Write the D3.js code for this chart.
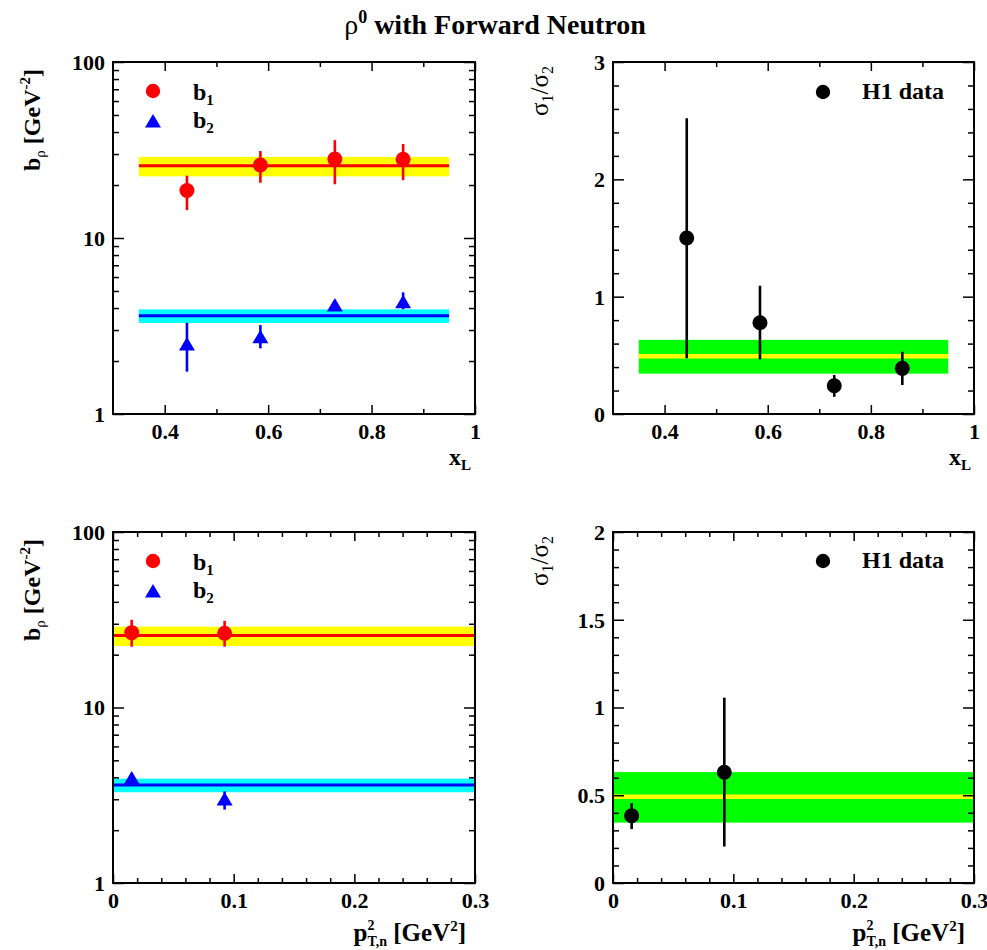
<!DOCTYPE html>
<html><head><meta charset="utf-8">
<script src="https://cdn.jsdelivr.net/npm/d3@7"></script>
<style>
html,body{margin:0;padding:0;background:#fff;}
text{font-family:"Liberation Serif","Times New Roman",serif;}
</style></head>
<body>
<script>
// ---------------- data ----------------
const xlPoints = [0.443, 0.585, 0.729, 0.861];
const b1XL = [18.6, 26.0, 28.1, 28.0];
const b1XLLo = [14.4, 20.6, 20.2, 21.3];
const b1XLHi = [22.6, 31.2, 36.0, 34.2];
const b2XL = [2.50, 2.75, 4.16, 4.35];
const b2XLLo = [1.74, 2.36, 4.02, 3.94];
const b2XLHi = [3.30, 3.20, 4.30, 4.91];
const ratioXL = [1.50, 0.778, 0.241, 0.389];
const ratioXLLo = [0.475, 0.466, 0.147, 0.247];
const ratioXLHi = [2.52, 1.093, 0.332, 0.531];

const ptPoints = [0.0155, 0.0925];
const b1PT = [26.7, 26.5];
const b1PTLo = [22.2, 22.2];
const b1PTHi = [31.6, 31.2];
const b2PT = [3.96, 3.01];
const b2PTLo = [3.85, 2.62];
const b2PTHi = [4.08, 3.33];
const ratioPT = [0.383, 0.631];
const ratioPTLo = [0.307, 0.208];
const ratioPTHi = [0.455, 1.056];

const b1Fit = [22.4, 25.7, 28.9];   // low, central, high
const b2Fit = [3.29, 3.62, 3.93];
const ratioFit = [0.344, 0.492, 0.632];
const xlBandRange = [0.35, 0.95];
const ptBandRange = [0.0, 0.3];

const xlDomain = [0.3, 1.0];
const ptDomain = [0.0, 0.3];
const xlTicks = [0.4, 0.6, 0.8, 1.0];
const xlTickLabels = ["0.4", "0.6", "0.8", "1"];
const xlMinor = [0.5, 0.7, 0.9];
const ptTicks = [0, 0.1, 0.2, 0.3];
const ptTickLabels = ["0", "0.1", "0.2", "0.3"];
const ptMinor = [0.02, 0.04, 0.06, 0.08, 0.12, 0.14, 0.16, 0.18, 0.22, 0.24, 0.26, 0.28];
const logTicks = [1, 10, 100];
const logTickLabels = ["1", "10", "100"];
const logMinor = [2, 3, 4, 5, 6, 7, 8, 9, 20, 30, 40, 50, 60, 70, 80, 90];
const ratioTopTicks = [0, 1, 2, 3];
const ratioTopLabels = ["0", "1", "2", "3"];
const ratioTopMinor = [0.2, 0.4, 0.6, 0.8, 1.2, 1.4, 1.6, 1.8, 2.2, 2.4, 2.6, 2.8];
const ratioBotTicks = [0, 0.5, 1, 1.5, 2];
const ratioBotLabels = ["0", "0.5", "1", "1.5", "2"];
const ratioBotMinor = [0.1, 0.2, 0.3, 0.4, 0.6, 0.7, 0.8, 0.9, 1.1, 1.2, 1.3, 1.4, 1.6, 1.7, 1.8, 1.9];

// ---------------- drawing ----------------
const W = 987, H = 950;
const svg = d3.select("body").append("svg").attr("width", W).attr("height", H);
const FS = 22;   // tick labels
const LFS = 24;  // legend / axis titles

// title
const title = svg.append("text").attr("x", 495).attr("y", 34).attr("text-anchor", "middle")
  .attr("font-size", 28);
title.append("tspan").text("ρ");
title.append("tspan").attr("font-weight", "bold").attr("font-size", 18).attr("dy", -11).text("0");
title.append("tspan").attr("font-weight", "bold").attr("dy", 11).text(" with Forward Neutron");

function panel(cfg) {
  const g = svg.append("g");
  const x = d3.scaleLinear().domain(cfg.xDomain).range([cfg.x0, cfg.x1]);
  const y = (cfg.log ? d3.scaleLog() : d3.scaleLinear()).domain(cfg.yDomain).range([cfg.y1, cfg.y0]);

  // bands
  cfg.bands.forEach(b => {
    g.append("rect").attr("x", x(b.xr[0])).attr("width", x(b.xr[1]) - x(b.xr[0]))
      .attr("y", y(b.v[2])).attr("height", y(b.v[0]) - y(b.v[2])).attr("fill", b.fill);
    g.append("line").attr("x1", x(b.xr[0])).attr("x2", x(b.xr[1]))
      .attr("y1", y(b.v[1])).attr("y2", y(b.v[1])).attr("stroke", b.line).attr("stroke-width", b.lw);
  });

  // axes
  const tickStyle = sel => { sel.select(".domain").remove(); sel.selectAll("line").attr("stroke", "#000").attr("stroke-width", 1.5); };
  const fmt = (labels, ticks) => (d => labels[ticks.indexOf(d)]);
  const xb = g.append("g").attr("transform", `translate(0,${cfg.y1})`)
    .call(d3.axisBottom(x).tickValues(cfg.xTicks).tickFormat(fmt(cfg.xLabels, cfg.xTicks)).tickSize(-9).tickPadding(9));
  tickStyle(xb);
  xb.selectAll("text").attr("font-size", FS).attr("font-weight", "bold").attr("fill", "#000")
    .attr("font-family", '"Liberation Serif",serif').attr("dy", "0.71em");
  g.append("g").attr("transform", `translate(0,${cfg.y1})`)
    .call(d3.axisBottom(x).tickValues(cfg.xMinor).tickFormat("").tickSize(-5)).call(tickStyle);
  g.append("g").attr("transform", `translate(0,${cfg.y0})`)
    .call(d3.axisTop(x).tickValues(cfg.xTicks).tickFormat("").tickSize(-9)).call(tickStyle);
  g.append("g").attr("transform", `translate(0,${cfg.y0})`)
    .call(d3.axisTop(x).tickValues(cfg.xMinor).tickFormat("").tickSize(-5)).call(tickStyle);

  const yl = g.append("g").attr("transform", `translate(${cfg.x0},0)`)
    .call(d3.axisLeft(y).tickValues(cfg.yTicks).tickFormat(fmt(cfg.yLabels, cfg.yTicks)).tickSize(-11).tickPadding(8));
  tickStyle(yl);
  yl.selectAll("text").attr("font-size", FS).attr("font-weight", "bold").attr("fill", "#000")
    .attr("font-family", '"Liberation Serif",serif').attr("dy", "0.34em");
  g.append("g").attr("transform", `translate(${cfg.x0},0)`)
    .call(d3.axisLeft(y).tickValues(cfg.yMinor).tickFormat("").tickSize(-6)).call(tickStyle);
  g.append("g").attr("transform", `translate(${cfg.x1},0)`)
    .call(d3.axisRight(y).tickValues(cfg.yTicks).tickFormat("").tickSize(-11)).call(tickStyle);
  g.append("g").attr("transform", `translate(${cfg.x1},0)`)
    .call(d3.axisRight(y).tickValues(cfg.yMinor).tickFormat("").tickSize(-6)).call(tickStyle);

  // frame
  g.append("rect").attr("x", cfg.x0).attr("y", cfg.y0).attr("width", cfg.x1 - cfg.x0).attr("height", cfg.y1 - cfg.y0)
    .attr("fill", "none").attr("stroke", "#000").attr("stroke-width", 2);

  // series
  cfg.series.forEach(s => {
    const pts = s.xs.map((xv, i) => ({x: xv, v: s.v[i], lo: s.lo[i], hi: s.hi[i]}));
    g.selectAll(null).data(pts).enter().append("line")
      .attr("x1", d => x(d.x)).attr("x2", d => x(d.x))
      .attr("y1", d => y(d.lo)).attr("y2", d => y(d.hi))
      .attr("stroke", s.color).attr("stroke-width", 2.6);
    if (s.shape === "circle") {
      g.selectAll(null).data(pts).enter().append("circle")
        .attr("cx", d => x(d.x)).attr("cy", d => y(d.v)).attr("r", 7.5).attr("fill", s.color);
    } else {
      g.selectAll(null).data(pts).enter().append("path")
        .attr("transform", d => `translate(${x(d.x)},${y(d.v)})`)
        .attr("d", "M0,-7 L8,6.5 L-8,6.5 Z").attr("fill", s.color);
    }
  });

  // legend
  cfg.legend.forEach(l => {
    if (l.shape === "circle") {
      g.append("circle").attr("cx", l.mx).attr("cy", l.my).attr("r", 7.2).attr("fill", l.color);
    } else {
      g.append("path").attr("transform", `translate(${l.mx},${l.my})`)
        .attr("d", "M0,-7 L8,6.5 L-8,6.5 Z").attr("fill", l.color);
    }
    const t = g.append("text").attr("x", l.tx).attr("y", l.ty).attr("font-size", LFS).attr("font-weight", "bold");
    t.append("tspan").text(l.text);
    if (l.sub) t.append("tspan").attr("font-size", 15).attr("dy", 5).text(l.sub);
  });

  cfg.ytitle(g);
  cfg.xtitle(g);
}

function bTitle(cx, topY) {
  return g => {
    const t = g.append("text").attr("transform", `translate(${cx},${topY}) rotate(-90)`)
      .attr("text-anchor", "end").attr("font-size", LFS).attr("font-weight", "bold");
    t.append("tspan").text("b");
    t.append("tspan").attr("font-size", 15).attr("font-weight", "normal").attr("dy", 5).text("ρ");
    t.append("tspan").attr("dy", -5).text(" [GeV");
    t.append("tspan").attr("font-size", 15).attr("dy", -10).text("-2");
    t.append("tspan").attr("dy", 10).text("]");
  };
}
function sTitle(cx, topY) {
  return g => {
    const t = g.append("text").attr("transform", `translate(${cx},${topY}) rotate(-90)`)
      .attr("text-anchor", "end").attr("font-size", 25);
    t.append("tspan").text("σ");
    t.append("tspan").attr("font-size", 16).attr("dy", 5).text("1");
    t.append("tspan").attr("dy", -5).text("/σ");
    t.append("tspan").attr("font-size", 16).attr("dy", 5).text("2");
  };
}
function xlTitle(ex, by) {
  return g => {
    const t = g.append("text").attr("x", ex).attr("y", by).attr("text-anchor", "end")
      .attr("font-size", LFS).attr("font-weight", "bold");
    t.append("tspan").text("x");
    t.append("tspan").attr("font-size", 15).attr("dy", 5).text("L");
  };
}
function ptTitle(ex, by) {
  return g => {
    const t = g.append("text").attr("x", ex).attr("y", by).attr("text-anchor", "end")
      .attr("font-size", 25).attr("font-weight", "bold");
    t.append("tspan").text("p");
    t.append("tspan").attr("font-size", 14).attr("dy", -11).text("2");
    t.append("tspan").attr("font-size", 14).attr("dx", -7).attr("dy", 16).text("T,n");
    t.append("tspan").attr("dy", -5).text(" [GeV");
    t.append("tspan").attr("font-size", 15).attr("dy", -10).text("2");
    t.append("tspan").attr("dy", 10).text("]");
  };
}

const bLegend = (y0) => [
  {shape: "circle", color: "#ff0000", mx: 153, my: y0, tx: 193, ty: y0 + 9, text: "b", sub: "1"},
  {shape: "tri", color: "#0000ff", mx: 153, my: y0 + 30, tx: 193, ty: y0 + 37, text: "b", sub: "2"}
];
const hLegend = (y0) => [{shape: "circle", color: "#000", mx: 823, my: y0, tx: 862, ty: y0 + 7, text: "H1 data"}];

// top-left
panel({x0: 113, x1: 475, y0: 62, y1: 414, xDomain: xlDomain, yDomain: [1, 100], log: true,
  xTicks: xlTicks, xLabels: xlTickLabels, xMinor: xlMinor,
  yTicks: logTicks, yLabels: logTickLabels, yMinor: logMinor,
  bands: [{xr: xlBandRange, v: b1Fit, fill: "#ffff00", line: "#ff0000", lw: 3},
          {xr: xlBandRange, v: b2Fit, fill: "#00ffff", line: "#0000ff", lw: 3}],
  series: [{xs: xlPoints, v: b1XL, lo: b1XLLo, hi: b1XLHi, color: "#ff0000", shape: "circle"},
           {xs: xlPoints, v: b2XL, lo: b2XLLo, hi: b2XLHi, color: "#0000ff", shape: "tri"}],
  legend: bLegend(91), ytitle: bTitle(40, 69), xtitle: xlTitle(471, 465)});

// top-right
panel({x0: 613, x1: 974, y0: 62, y1: 414, xDomain: xlDomain, yDomain: [0, 3], log: false,
  xTicks: xlTicks, xLabels: xlTickLabels, xMinor: xlMinor,
  yTicks: ratioTopTicks, yLabels: ratioTopLabels, yMinor: ratioTopMinor,
  bands: [{xr: xlBandRange, v: ratioFit, fill: "#00ff00", line: "#ffff00", lw: 4.5}],
  series: [{xs: xlPoints, v: ratioXL, lo: ratioXLLo, hi: ratioXLHi, color: "#000", shape: "circle"}],
  legend: hLegend(92), ytitle: sTitle(548, 66), xtitle: xlTitle(971, 465)});

// bottom-left
panel({x0: 113, x1: 475, y0: 532, y1: 883, xDomain: ptDomain, yDomain: [1, 100], log: true,
  xTicks: ptTicks, xLabels: ptTickLabels, xMinor: ptMinor,
  yTicks: logTicks, yLabels: logTickLabels, yMinor: logMinor,
  bands: [{xr: ptBandRange, v: b1Fit, fill: "#ffff00", line: "#ff0000", lw: 3},
          {xr: ptBandRange, v: b2Fit, fill: "#00ffff", line: "#0000ff", lw: 3}],
  series: [{xs: ptPoints, v: b1PT, lo: b1PTLo, hi: b1PTHi, color: "#ff0000", shape: "circle"},
           {xs: ptPoints, v: b2PT, lo: b2PTLo, hi: b2PTHi, color: "#0000ff", shape: "tri"}],
  legend: bLegend(561), ytitle: bTitle(40, 539), xtitle: ptTitle(466, 941)});

// bottom-right
panel({x0: 613, x1: 974, y0: 532, y1: 883, xDomain: ptDomain, yDomain: [0, 2], log: false,
  xTicks: ptTicks, xLabels: ptTickLabels, xMinor: ptMinor,
  yTicks: ratioBotTicks, yLabels: ratioBotLabels, yMinor: ratioBotMinor,
  bands: [{xr: ptBandRange, v: ratioFit, fill: "#00ff00", line: "#ffff00", lw: 4.5}],
  series: [{xs: ptPoints, v: ratioPT, lo: ratioPTLo, hi: ratioPTHi, color: "#000", shape: "circle"}],
  legend: hLegend(561), ytitle: sTitle(548, 536), xtitle: ptTitle(965, 941)});
</script>
</body></html>
